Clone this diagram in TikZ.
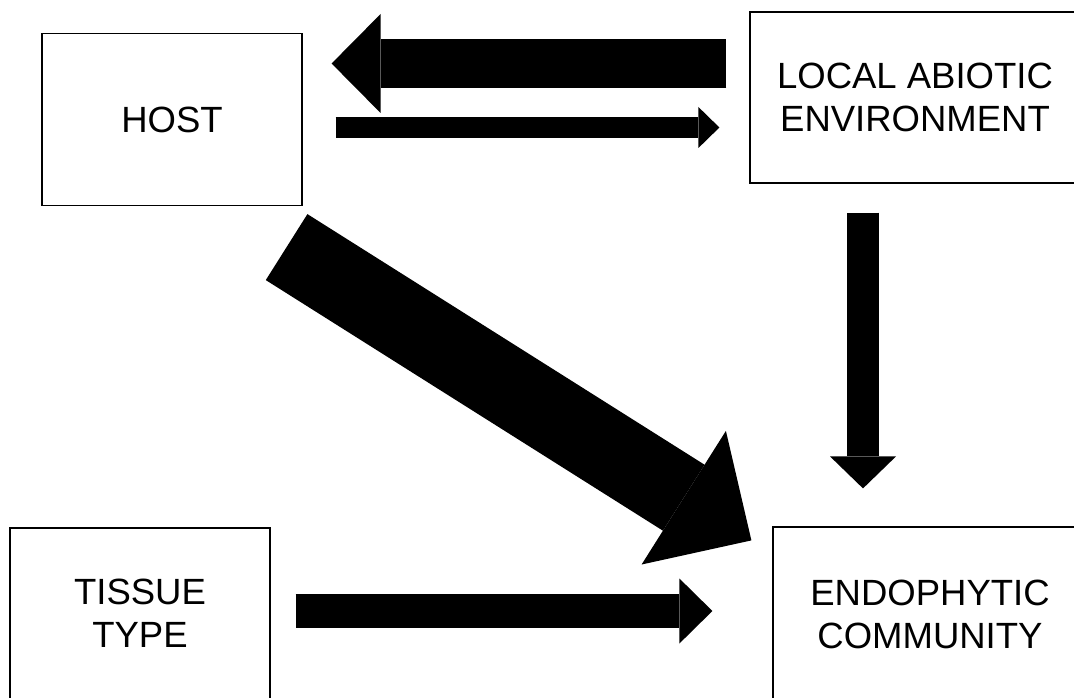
\documentclass[tikz,border=0pt]{standalone}
\usepackage{fontspec}
\setmainfont{Liberation Sans}
\usetikzlibrary{arrows.meta}
\begin{document}
\begin{tikzpicture}[x=1pt,y=-1pt,font=\fontsize{36.5}{43}\selectfont,
  b/.style={draw,line width=1.2pt,align=center,inner sep=0pt,minimum height=172pt},
  fat/.style n args={3}{line width=#1,-{Triangle[length=#2,width=#3,line width=0pt]}}]
\path[use as bounding box,clip] (0,0) rectangle (1074,698);
\node[b,minimum width=260pt] (host) at (172,119.5) {HOST};
\node[b,minimum width=330pt,minimum height=171pt] (abio) at (915,97.5) {LOCAL ABIOTIC\\ENVIRONMENT};
\node[b,minimum width=260pt,minimum height=171pt] (tissue) at (140,613.5) {TISSUE\\TYPE};
\node[b,minimum width=314pt,minimum height=174pt] (endo) at (930,614) {ENDOPHYTIC\\COMMUNITY};
\draw[fat={49pt}{49pt}{99pt},shorten <=23pt,shorten >=29pt] ([yshift=34pt]abio.west) -- ([yshift=56pt]host.east);
\draw[fat={21pt}{21pt}{41pt},shorten <=33pt,shorten >=30pt] ([yshift=-8pt]host.east) -- ([yshift=-30pt]abio.west);
\draw[fat={32pt}{32pt}{66pt},shorten <=29pt,shorten >=38pt] ([xshift=-52pt]abio.south) -- ([xshift=-67pt]endo.north);
\draw[fat={34pt}{33pt}{65pt},shorten <=25pt,shorten >=60pt] ([yshift=2.5pt]tissue.east) -- ([yshift=3pt]endo.west);
\draw[fat={78pt}{80pt}{158pt}] ([xshift=-16pt,yshift=-41pt]host.south east) -- ([xshift=-21pt,yshift=-14pt]endo.north west);
\end{tikzpicture}
\end{document}
